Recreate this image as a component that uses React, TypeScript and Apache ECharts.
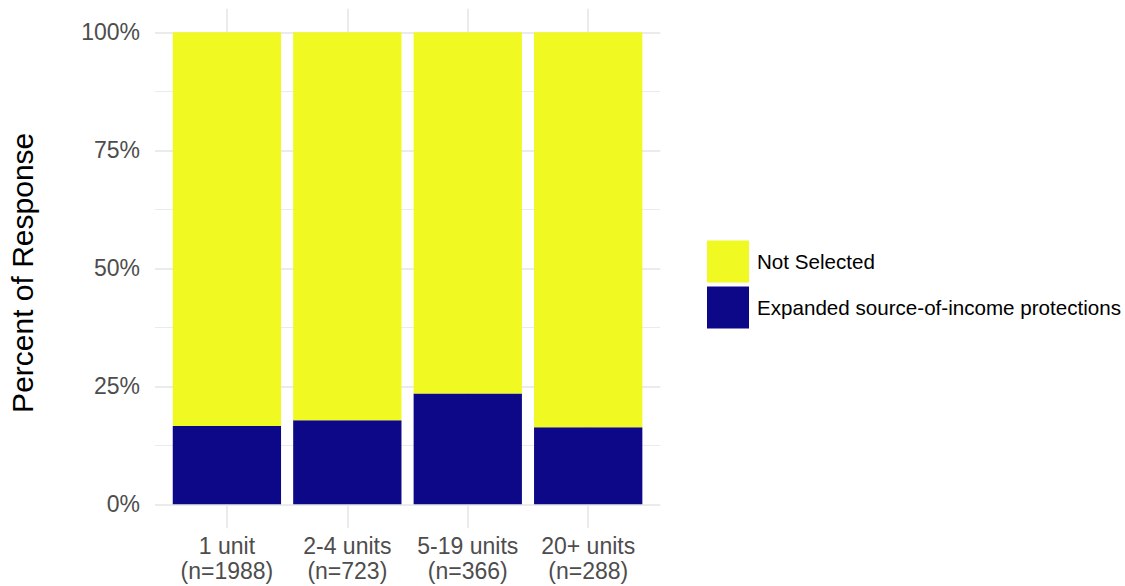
import React, { useEffect, useRef } from "react";
import * as echarts from "echarts";

const categories = ["1 unit\n(n=1988)", "2-4 units\n(n=723)", "5-19 units\n(n=366)", "20+ units\n(n=288)"];
const expanded = [16.6, 17.8, 23.5, 16.3];
const notSelected = [83.4, 82.2, 76.5, 83.7];
const yTicks = [0, 25, 50, 75, 100];
const seriesNames = ["Not Selected", "Expanded source-of-income protections"];

const FONT = "'Liberation Sans', Arial, sans-serif";

export default function App() {
  const ref = useRef<HTMLDivElement>(null);
  useEffect(() => {
    if (!ref.current) return;
    const chart = echarts.init(ref.current, null, { renderer: "svg" });
    const grid0Top = 32.3;
    const grid0H = 472;
    const unit = grid0H / 100;
    chart.setOption({
      animation: false,
      textStyle: { fontFamily: FONT },
      grid: [
        { left: 155, width: 505.3, top: grid0Top, height: grid0H, containLabel: false },
        { left: 226.9, width: 361.3, top: grid0Top - 5 * unit, height: 110 * unit, containLabel: false },
      ],
      xAxis: [
        { type: "value", gridIndex: 0, show: false, min: 0, max: 1 },
        {
          type: "category",
          gridIndex: 1,
          data: categories,
          boundaryGap: false,
          axisLine: { show: false },
          axisTick: { show: false },
          axisLabel: {
            color: "#4D4D4D",
            fontSize: 23,
            lineHeight: 25,
            margin: 6,
            interval: 0,
            fontFamily: FONT,
          },
          splitLine: { show: true, interval: 0, lineStyle: { color: "#EBEBEB", width: 2 } },
        },
      ],
      yAxis: [
        {
          type: "value",
          gridIndex: 0,
          min: yTicks[0],
          max: yTicks[yTicks.length - 1],
          interval: 25,
          axisLine: { show: false },
          axisTick: { show: false },
          axisLabel: {
            color: "#4D4D4D",
            fontSize: 23,
            margin: 15,
            formatter: "{value}%",
            fontFamily: FONT,
          },
          splitLine: { show: true, lineStyle: { color: "#EBEBEB", width: 2 } },
          minorTick: { show: false, splitNumber: 2 },
          minorSplitLine: { show: true, lineStyle: { color: "#EBEBEB", width: 1 } },
          name: "Percent of Response",
          nameLocation: "middle",
          nameGap: 118,
          nameTextStyle: { fontSize: 30, color: "#000000", fontFamily: FONT, padding: [0, 9, 0, 0] },
        },
        { type: "value", gridIndex: 1, show: false, min: -5, max: 105 },
      ],
      legend: {
        orient: "vertical",
        left: 707,
        top: 240.5,
        padding: 0,
        itemWidth: 42,
        itemHeight: 42,
        itemGap: 4,
        icon: "rect",
        data: seriesNames,
        textStyle: { fontSize: 20.6, color: "#000000", fontFamily: FONT, padding: [0, 0, 0, 3] },
        selectedMode: false,
      },
      series: [
        {
          name: seriesNames[1],
          type: "bar",
          xAxisIndex: 1,
          yAxisIndex: 1,
          stack: "total",
          barWidth: 108.3,
          data: expanded,
          itemStyle: { color: "#0D0887" },
        },
        {
          name: seriesNames[0],
          type: "bar",
          xAxisIndex: 1,
          yAxisIndex: 1,
          stack: "total",
          barWidth: 108.3,
          data: notSelected,
          itemStyle: { color: "#F0F921" },
        },
      ],
    });
    return () => chart.dispose();
  }, []);
  return (
    <div style={{ position: "fixed", left: 0, top: 0, width: 1125, height: 586, background: "#fff" }}>
      <div ref={ref} style={{ width: 1125, height: 586 }} />
    </div>
  );
}
